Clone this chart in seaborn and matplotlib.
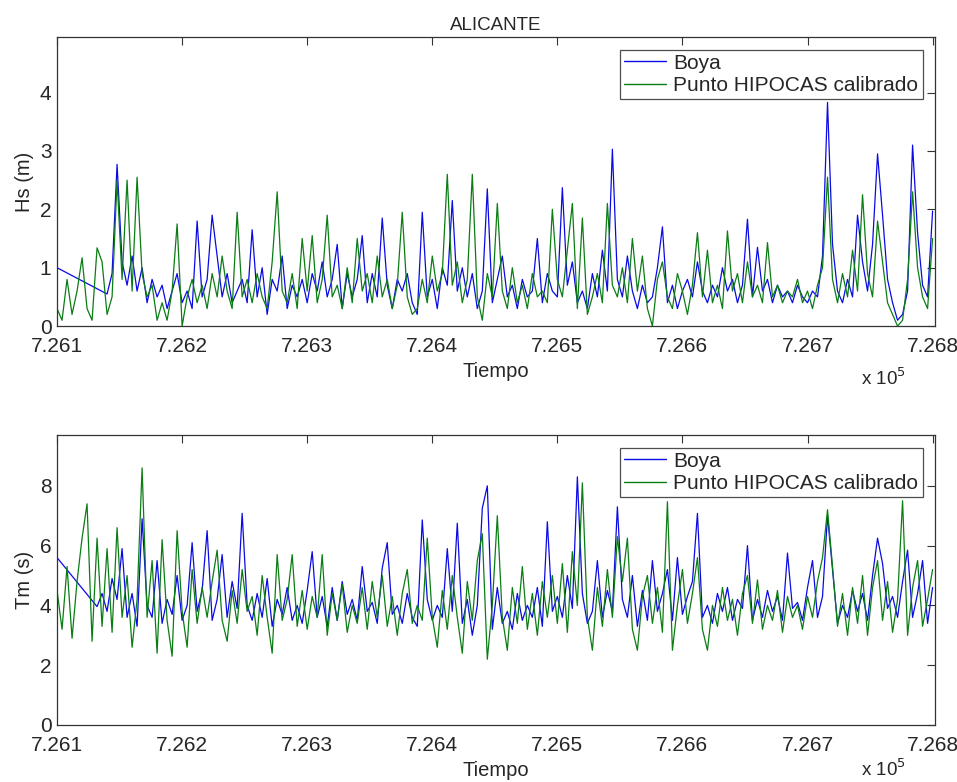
import numpy as np
import pandas as pd
import matplotlib
matplotlib.use("Agg")
import matplotlib.pyplot as plt
import seaborn as sns

# ---------------- data ----------------
dias = np.arange(726100, 726801, 4)  # Tiempo (datenum), 4-day sampling

hs_hipocas = [
    0.3, 0.1, 0.8, 0.2, 0.6, 1.17, 0.3, 0.1, 1.34, 1.1,
    0.2, 0.5, 2.5, 0.8, 2.5, 0.6, 2.55, 0.9, 0.5, 0.7,
    0.1, 0.4, 0.1, 0.6, 1.75, 0.0, 0.5, 0.8, 0.4, 0.7,
    0.3, 0.9, 0.5, 1.2, 0.6, 0.3, 1.95, 0.5, 0.8, 0.4,
    0.9, 0.5, 0.3, 1.1, 2.3, 0.6, 0.4, 0.9, 0.3, 1.5,
    0.6, 1.55, 0.4, 0.8, 1.9, 0.5, 0.7, 0.3, 1.0, 0.4,
    1.5, 0.6, 0.9, 0.4, 1.2, 0.5, 0.8, 0.3, 0.7, 1.95,
    0.5, 0.2, 0.3, 0.8, 0.4, 1.2, 0.6, 0.9, 2.6, 0.7,
    1.1, 0.4, 0.8, 2.6, 0.5, 0.1, 0.9, 0.5, 2.1, 0.6,
    0.3, 1.0, 0.4, 0.7, 0.3, 0.9, 0.5, 0.6, 0.4, 2.0,
    0.8, 0.5, 1.3, 2.1, 0.3, 1.85, 0.2, 0.5, 0.9, 0.4,
    2.1, 0.7, 0.5, 1.0, 0.4, 1.5, 0.6, 1.2, 0.3, 0.0,
    0.8, 1.1, 0.5, 0.3, 0.9, 0.6, 0.2, 0.7, 1.6, 0.5,
    1.3, 0.4, 0.7, 0.3, 1.63, 0.6, 0.9, 0.4, 1.1, 0.5,
    0.7, 0.4, 1.43, 0.5, 0.7, 0.4, 0.6, 0.5, 0.8, 0.4,
    0.6, 0.3, 0.7, 1.0, 2.55, 0.8, 0.4, 0.9, 0.5, 1.3,
    0.6, 2.25, 0.9, 0.5, 1.8, 1.1, 0.4, 0.2, 0.0, 0.1,
    0.8, 2.3, 1.0, 0.5, 0.3, 1.5,
]

hs_boya = [
    1.0, None, None, None, None, None, None, None, None, None,
    0.55, 0.9, 2.77, 1.1, 0.7, 1.2, 0.6, 1.0, 0.4, 0.8,
    0.5, 0.7, 0.3, 0.6, 0.9, 0.4, 0.6, 0.3, 1.8, 0.5,
    0.8, 1.9, 1.2, 0.5, 0.9, 0.4, 0.6, 0.8, 0.4, 1.65,
    0.5, 1.0, 0.2, 0.8, 0.6, 1.2, 0.3, 0.7, 0.5, 0.8,
    0.4, 0.9, 0.6, 1.1, 0.5, 0.8, 1.4, 0.3, 0.9, 0.5,
    0.8, 1.55, 0.4, 0.9, 0.5, 1.85, 0.7, 0.3, 0.8, 0.6,
    0.9, 0.4, 0.2, 1.95, 0.5, 0.8, 0.3, 1.0, 0.7, 2.15,
    0.6, 1.0, 0.5, 0.9, 0.3, 0.6, 2.35, 0.4, 0.8, 1.2,
    0.5, 0.7, 0.3, 0.8, 0.5, 0.6, 1.5, 0.4, 0.9, 0.6,
    0.5, 2.37, 0.7, 1.1, 0.4, 0.6, 0.3, 0.9, 0.5, 1.3,
    0.6, 3.03, 0.8, 0.5, 1.2, 0.6, 0.3, 0.7, 0.4, 0.5,
    1.0, 1.7, 0.4, 0.7, 0.3, 0.6, 0.8, 0.5, 1.1, 0.6,
    0.4, 0.7, 0.5, 1.0, 0.6, 0.8, 0.4, 0.7, 1.83, 0.5,
    1.35, 0.6, 0.8, 0.4, 0.7, 0.5, 0.6, 0.4, 0.7, 0.5,
    0.4, 0.6, 0.5, 1.2, 3.83, 1.4, 0.6, 0.4, 0.8, 0.5,
    1.9, 1.1, 0.6, 1.4, 2.95, 1.9, 0.8, 0.4, 0.1, 0.2,
    0.6, 3.1, 1.6, 0.7, 0.5, 1.97,
]

tm_hipocas = [
    4.5, 3.2, 5.3, 2.9, 4.8, 6.25, 7.4, 2.8, 6.25, 3.3,
    5.9, 3.1, 6.6, 3.6, 5.0, 2.6, 4.2, 8.6, 3.6, 5.5,
    2.4, 6.2, 3.5, 2.3, 6.5, 3.8, 2.6, 5.2, 3.4, 4.6,
    3.6, 4.8, 5.85, 3.5, 2.8, 4.5, 3.4, 5.2, 3.8, 4.3,
    3.0, 5.0, 3.6, 2.4, 5.7, 3.5, 4.2, 5.7, 3.3, 4.5,
    3.2, 4.3, 3.6, 5.7, 3.0, 4.4, 3.5, 4.7, 3.1, 4.0,
    3.4, 4.6, 3.2, 4.8, 3.6, 5.0, 3.3, 4.3, 3.0, 4.4,
    5.2, 3.4, 4.0, 3.5, 6.25, 3.6, 2.6, 4.5, 3.2, 5.0,
    3.6, 2.4, 4.8, 3.5, 5.5, 6.4, 2.2, 4.0, 7.0, 3.6,
    2.5, 4.6, 3.4, 5.3, 3.2, 4.4, 3.0, 4.8, 3.6, 5.0,
    3.4, 5.4, 3.1, 5.8, 4.0, 8.1, 3.6, 2.5, 4.6, 3.3,
    5.2, 3.6, 6.3, 4.8, 6.25, 3.2, 2.5, 4.3, 5.0, 3.4,
    4.6, 3.1, 7.47, 2.5, 4.0, 5.2, 3.4, 4.4, 5.6, 3.2,
    2.5, 4.0, 3.3, 4.6, 3.5, 4.2, 3.0, 4.4, 5.0, 3.4,
    4.85, 3.2, 4.0, 3.5, 4.5, 3.1, 4.3, 3.6, 4.0, 3.2,
    4.3, 3.6, 4.8, 5.6, 7.2, 5.3, 3.3, 4.4, 3.0, 4.6,
    3.4, 5.0, 3.0, 4.6, 5.5, 3.5, 4.8, 3.1, 4.2, 7.5,
    3.0, 4.6, 5.5, 3.3, 4.2, 5.2,
]

tm_boya = [
    5.6, None, None, None, None, None, None, None, 3.96, 4.4,
    3.8, 4.9, 4.2, 5.9, 3.6, 4.4, 3.3, 6.9, 4.0, 3.6,
    5.5, 3.4, 4.2, 3.7, 5.0, 3.5, 4.0, 6.1, 3.8, 4.5,
    6.5, 3.5, 4.2, 5.7, 3.6, 4.8, 3.9, 7.08, 4.0, 3.5,
    4.4, 3.6, 4.9, 3.3, 4.2, 3.7, 4.6, 3.5, 4.0, 3.4,
    4.5, 5.8, 3.6, 4.3, 3.3, 4.6, 3.5, 4.8, 3.7, 4.2,
    3.5, 5.3, 3.8, 4.1, 3.4, 5.25, 6.1, 3.7, 4.0, 3.4,
    4.4, 3.6, 3.3, 6.86, 4.2, 3.5, 4.0, 3.6, 5.9, 3.8,
    6.75, 3.4, 4.2, 3.0, 4.0, 7.25, 8.0, 3.2, 4.6, 3.4,
    3.8, 3.2, 4.4, 3.5, 4.0, 3.6, 4.6, 3.3, 6.8, 3.8,
    4.3, 3.6, 5.0, 3.9, 8.3, 4.4, 3.4, 3.8, 5.5, 3.6,
    4.5, 3.8, 7.3, 4.2, 3.6, 5.0, 3.3, 4.5, 3.5, 5.5,
    3.8, 4.4, 5.2, 3.5, 5.6, 3.7, 4.3, 4.8, 7.08, 3.6,
    4.0, 3.4, 4.4, 3.8, 4.6, 3.5, 4.2, 3.9, 6.0, 3.5,
    4.2, 3.6, 4.5, 3.8, 4.3, 3.5, 5.75, 3.9, 4.1, 3.5,
    4.6, 5.5, 3.6, 4.3, 7.0, 5.2, 3.4, 4.0, 3.6, 4.5,
    3.8, 4.4, 3.5, 5.0, 6.25, 5.4, 3.9, 4.3, 3.6, 4.8,
    5.85, 3.6, 4.4, 5.5, 3.4, 4.6,
]

series = ["Boya", "Punto HIPOCAS calibrado"]
xticks = [726100, 726200, 726300, 726400, 726500, 726600, 726700, 726800]
xticklabels = ["7.261", "7.262", "7.263", "7.264", "7.265", "7.266", "7.267", "7.268"]

# ---------------- figure ----------------
sns.set_style("white")
plt.rcParams["font.family"] = ["Liberation Sans", "DejaVu Sans"]
plt.rcParams["xtick.direction"] = "in"
plt.rcParams["ytick.direction"] = "in"

colors = {"Boya": "#0a0ae6", "Punto HIPOCAS calibrado": "#0a7d14"}

fig = plt.figure(figsize=(9.57, 7.82), dpi=100)
ax1 = fig.add_axes([0.0596, 0.583, 0.9175, 0.3696])
ax2 = fig.add_axes([0.0596, 0.0729, 0.9175, 0.3708])


def make_df(boya, hipocas):
    d1 = pd.DataFrame({"Tiempo": dias, "valor": pd.array(boya, dtype="Float64"), "serie": series[0]})
    d1 = d1.dropna()
    d2 = pd.DataFrame({"Tiempo": dias, "valor": pd.array(hipocas, dtype="Float64"), "serie": series[1]})
    df = pd.concat([d1, d2], ignore_index=True)
    df["valor"] = df["valor"].astype(float)
    return df


panels = [
    (ax1, make_df(hs_boya, hs_hipocas), "Hs (m)", (0, 4.95), [0, 1, 2, 3, 4]),
    (ax2, make_df(tm_boya, tm_hipocas), "Tm (s)", (0, 9.7), [0, 2, 4, 6, 8]),
]

for ax, df, ylab, ylim, yticks in panels:
    sns.lineplot(data=df, x="Tiempo", y="valor", hue="serie", hue_order=series,
                 palette=colors, estimator=None, sort=False, linewidth=0.9, ax=ax)
    ax.set_xlim(726100, 726802)
    ax.set_ylim(*ylim)
    ax.set_xticks(xticks)
    ax.set_xticklabels(xticklabels)
    ax.set_yticks(yticks)
    ax.tick_params(axis="both", which="both", labelsize=15, length=6, width=0.8,
                   top=True, right=True, color="#333333")
    ax.tick_params(axis="x", pad=8)
    ax.tick_params(axis="y", pad=4)
    for s in ax.spines.values():
        s.set_color("#333333")
        s.set_linewidth(0.9)
    ax.set_xlabel("Tiempo", fontsize=14.5, labelpad=4)
    ax.set_ylabel(ylab, fontsize=14.5, labelpad=4)
    leg = ax.legend(loc="upper right", fontsize=15, frameon=True, fancybox=False,
                    handlelength=2.0, handletextpad=0.35, borderpad=0.2,
                    labelspacing=0.15, borderaxespad=0.6)
    leg.get_frame().set_edgecolor("#222222")
    leg.get_frame().set_linewidth(0.9)
    for line in leg.get_lines():
        line.set_linewidth(1.0)

ax1.set_title("ALICANTE", fontsize=13.5, pad=5)

fig.text(0.900, 0.516, "x 10$^5$", fontsize=13.5, ha="left", va="center")
fig.text(0.900, 0.003, "x 10$^5$", fontsize=13.5, ha="left", va="bottom")

fig.savefig("out.png", dpi=100, facecolor="white")
